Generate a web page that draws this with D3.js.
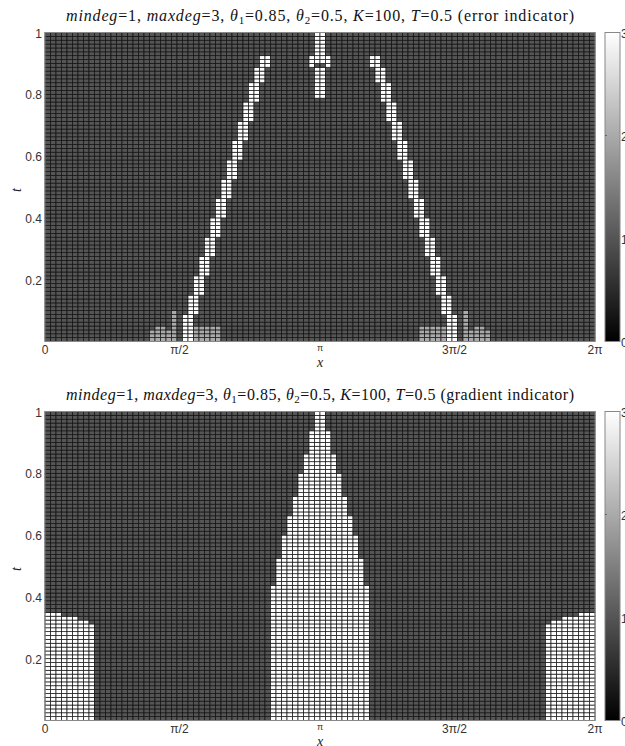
<!DOCTYPE html>
<html>
<head>
<meta charset="utf-8">
<script src="https://cdn.jsdelivr.net/npm/d3@7"></script>
<style>
  body { margin: 0; background: #fff; }
  svg { display: block; }
</style>
</head>
<body>
<div id="chart"></div>
<script>
// grid size of the indicator maps
const nCols = 100;
const nRows = 80;
const baseValue = 1;

const xTicks = [0, Math.PI / 2, Math.PI, 3 * Math.PI / 2, 2 * Math.PI];
const xTickLabels = ["0", "\u03c0/2", "\u03c0", "3\u03c0/2", "2\u03c0"];
const yTicks = [0.2, 0.4, 0.6, 0.8, 1];
const yTickLabels = ["0.2", "0.4", "0.6", "0.8", "1"];
const cbTicks = [0, 1, 2, 3];

// error indicator: [colStart, colEnd, rowStart, rowEnd, value]
const errorFeet = [
  [19, 19, 0, 2, 2], [20, 21, 0, 3, 2], [22, 22, 0, 2, 2], [23, 23, 0, 7, 2],
  [27, 31, 0, 3, 2],
  [68, 72, 0, 3, 2],
  [76, 76, 0, 7, 2], [77, 77, 0, 2, 2], [78, 79, 0, 3, 2], [80, 80, 0, 2, 2]
];
// two-cell wide staircase bands: [rowStart, rowEnd, leftCol]
const errorBandLeft = [
  [0, 6, 25], [7, 11, 26], [12, 16, 27], [17, 21, 28], [22, 26, 29],
  [27, 31, 30], [32, 36, 31], [37, 41, 32], [42, 46, 33], [47, 51, 34],
  [52, 56, 35], [57, 61, 36], [62, 66, 37], [67, 70, 38], [71, 73, 39]
];
const errorBandRight = [
  [0, 6, 73], [7, 11, 72], [12, 16, 71], [17, 21, 70], [22, 26, 69],
  [27, 31, 68], [32, 36, 67], [37, 41, 66], [42, 46, 65], [47, 51, 64],
  [52, 56, 63], [57, 61, 62], [62, 66, 61], [67, 70, 60], [71, 73, 59]
];
const errorCenter = [
  [49, 50, 74, 79, 3], [48, 51, 72, 73, 3], [48, 48, 71, 71, 3],
  [51, 51, 71, 71, 3], [49, 50, 63, 70, 3]
];

// gradient indicator: [colStart, colEnd, rowStart, rowEnd, value]
const gradientCells = [
  // left block
  [0, 2, 0, 27, 3], [3, 5, 0, 26, 3], [6, 7, 0, 25, 3], [8, 8, 0, 24, 3],
  // central cone
  [41, 58, 0, 34, 3], [42, 57, 35, 41, 3], [43, 56, 42, 47, 3],
  [44, 55, 48, 52, 3], [45, 54, 53, 57, 3], [46, 53, 58, 63, 3],
  [47, 52, 64, 68, 3], [48, 51, 69, 74, 3], [49, 50, 75, 79, 3],
  // right block
  [91, 91, 0, 24, 3], [92, 93, 0, 25, 3], [94, 96, 0, 26, 3], [97, 99, 0, 27, 3]
];

const titles = [
  "error indicator",
  "gradient indicator"
];

function buildGrid(runs) {
  const grid = [];
  for (let r = 0; r < nRows; r++) {
    for (let c = 0; c < nCols; c++) grid.push({ r, c, v: baseValue });
  }
  runs.forEach(([c0, c1, r0, r1, v]) => {
    for (let r = r0; r <= r1; r++)
      for (let c = c0; c <= c1; c++) grid[r * nCols + c].v = v;
  });
  return grid;
}

const bandRuns = b => b.map(([r0, r1, c]) => [c, c + 1, r0, r1, 3]);
const grids = [
  buildGrid(errorFeet.concat(bandRuns(errorBandLeft), bandRuns(errorBandRight), errorCenter)),
  buildGrid(gradientCells)
];

const W = 625, H = 746;
const left = 45, right = 595, plotH = 309;
const tops = [32.5, 411.5];

const svg = d3.select("#chart").append("svg")
  .attr("width", W)
  .attr("height", H);

svg.append("rect").attr("width", W).attr("height", H).attr("fill", "#fff");

const defs = svg.append("defs");
const grad = defs.append("linearGradient")
  .attr("id", "cbgrad")
  .attr("x1", 0).attr("y1", 1).attr("x2", 0).attr("y2", 0);
grad.append("stop").attr("offset", "0%").attr("stop-color", "#000");
grad.append("stop").attr("offset", "100%").attr("stop-color", "#fff");

const color = d3.scaleLinear().domain([0, 3]).range(["#000", "#fff"]);
const dx = 2 * Math.PI / nCols, dt = 1 / nRows;

tops.forEach((top, i) => {
  const x = d3.scaleLinear().domain([0, 2 * Math.PI]).range([left, right]);
  const y = d3.scaleLinear().domain([0, 1]).range([top + plotH, top]);
  const g = svg.append("g");

  g.selectAll("rect.cell")
    .data(grids[i])
    .enter()
    .append("rect")
    .attr("class", "cell")
    .attr("x", d => x(d.c * dx))
    .attr("y", d => y((d.r + 1) * dt))
    .attr("width", x(dx) - x(0))
    .attr("height", y(0) - y(dt))
    .attr("fill", d => color(d.v))
    .attr("stroke", "#111")
    .attr("stroke-width", 0.7);

  // frame
  g.append("rect")
    .attr("x", left).attr("y", top)
    .attr("width", right - left).attr("height", plotH)
    .attr("fill", "none").attr("stroke", "#888").attr("stroke-width", 1);

  // title
  const title = g.append("text")
    .attr("x", (left + right) / 2)
    .attr("y", top - 12)
    .attr("text-anchor", "middle")
    .attr("textLength", 508)
    .attr("lengthAdjust", "spacing")
    .style("font-family", "'Liberation Serif', serif")
    .style("font-size", "16px")
    .attr("fill", "#111");
  const parts = [
    ["mindeg", true], ["=1, ", false], ["maxdeg", true], ["=3, ", false],
    ["\u03b8", true], ["1", false, true], ["=0.85, ", false],
    ["\u03b8", true], ["2", false, true], ["=0.5, ", false],
    ["K", true], ["=100, ", false], ["T", true], ["=0.5 (" + titles[i] + ")", false]
  ];
  parts.forEach(([s, it, sub], k) => {
    const ts = title.append("tspan").text(s);
    if (it) ts.style("font-style", "italic");
    if (sub) ts.attr("dy", 3).style("font-size", "11px");
    else if (k > 0 && parts[k - 1][2]) ts.attr("dy", -3);
  });

  // y ticks
  g.selectAll("text.yt")
    .data(yTicks)
    .enter()
    .append("text")
    .attr("class", "yt")
    .attr("x", left - 3)
    .attr("y", d => y(d) + 5)
    .attr("text-anchor", "end")
    .style("font-family", "'Liberation Sans', Arial, sans-serif")
    .style("font-size", "12px")
    .attr("fill", "#333")
    .text((d, k) => yTickLabels[k]);

  // x ticks
  g.selectAll("text.xt")
    .data(xTicks)
    .enter()
    .append("text")
    .attr("class", "xt")
    .attr("x", (d, k) => x(d) - (k === 1 || k === 3 ? 3 : 0))
    .attr("y", (d, k) => top + plotH + (k === 2 ? 9.5 : 12))
    .attr("text-anchor", "middle")
    .style("font-family", "'Liberation Sans', Arial, sans-serif")
    .style("font-size", (d, k) => k === 2 ? "9px" : "12px")
    .attr("fill", "#333")
    .text((d, k) => xTickLabels[k]);

  g.append("text")
    .attr("x", (left + right) / 2)
    .attr("y", top + plotH + 25)
    .attr("text-anchor", "middle")
    .style("font-family", "'Liberation Serif', serif")
    .style("font-style", "italic")
    .style("font-size", "14px")
    .attr("fill", "#222")
    .text("x");

  g.append("text")
    .attr("transform", `translate(21,${top + plotH / 2 + 3}) rotate(-90)`)
    .attr("text-anchor", "middle")
    .style("font-family", "'Liberation Serif', serif")
    .style("font-style", "italic")
    .style("font-size", "14px")
    .attr("fill", "#222")
    .text("t");

  // colorbar
  const cb = d3.scaleLinear().domain([0, 3]).range([top + plotH, top]);
  g.append("rect")
    .attr("x", 605).attr("y", top)
    .attr("width", 15).attr("height", plotH)
    .attr("fill", "url(#cbgrad)")
    .attr("stroke", "#888").attr("stroke-width", 1);
  g.selectAll("line.cbt")
    .data(cbTicks.slice(1, 3))
    .enter()
    .append("line")
    .attr("x1", 605).attr("x2", 607)
    .attr("y1", d => cb(d)).attr("y2", d => cb(d))
    .attr("stroke", "#666");
  g.selectAll("text.cbl")
    .data(cbTicks)
    .enter()
    .append("text")
    .attr("x", 621)
    .attr("y", d => cb(d) + 5)
    .style("font-family", "'Liberation Sans', Arial, sans-serif")
    .style("font-size", "12px")
    .attr("fill", "#333")
    .text(d => d);
});
</script>
</body>
</html>
